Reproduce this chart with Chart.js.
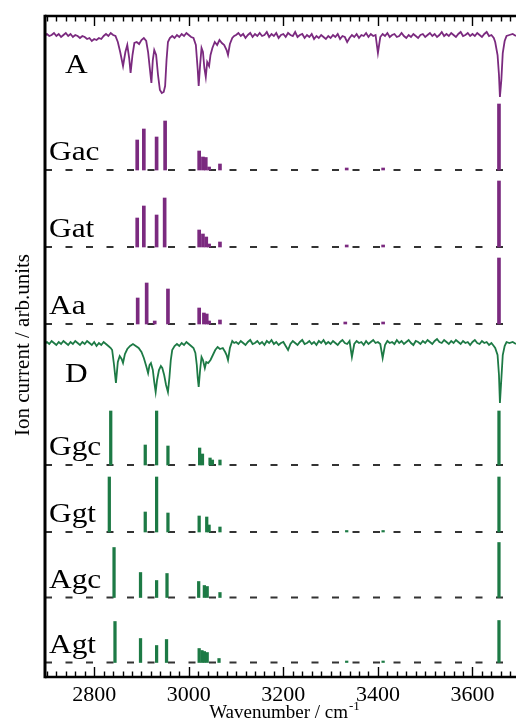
<!DOCTYPE html>
<html>
<head>
<meta charset="utf-8">
<script src="https://cdn.jsdelivr.net/npm/chart.js@4.4.0/dist/chart.umd.min.js"></script>
<style>
  html, body { margin: 0; padding: 0; background: #fff; overflow: hidden; }
  #chart { display: block; }
</style>
</head>
<body>
<canvas id="chart" width="516" height="720"></canvas>
<script>
'use strict'

//x axis range and labelled ticks
const xMin = 2696;
const xMax = 3692;
const xTickLabels = [2800, 3000, 3200, 3400, 3600];
const minorStep = 20;

//Measured spectrum A (wavenumber, signal relative to its own baseline)
const waveA = [
  2696,2700,2705,2710,2715,2720,2725,2730,2735,2740,
  2745,2750,2755,2760,2765,2770,2775,2780,2785,2790,
  2795,2800,2805,2810,2815,2820,2825,2830,2835,2840,
  2845,2850,2855,2861,2866,2870,2874,2877,2881,2885,
  2890,2895,2900,2905,2910,2914,2918,2921,2924,2927,
  2931,2935,2939,2943,2947,2950,2953,2956,2960,2965,
  2970,2975,2980,2985,2990,2995,3000,3005,3010,3015,
  3019,3021,3024,3027,3030,3033,3036,3039,3043,3046,
  3050,3055,3060,3065,3070,3075,3080,3083,3087,3092,
  3096,
  3100,3105,3110,3115,3120,3125,3130,3135,3140,3145,
  3150,3155,3160,3165,3170,3175,3180,3185,3190,3195,
  3200,3205,3210,3215,3220,3225,3230,3235,3240,3245,
  3250,3255,3260,3265,3270,3275,3280,3285,3290,3295,
  3300,3305,3310,3315,3320,3325,3330,3335,3340,3345,
  3350,3355,3360,3365,3370,3375,3380,3385,3390,3395,
  3400,3405,3410,3415,3420,3425,3430,3435,3440,3445,
  3450,3455,3460,3465,3470,3475,3480,3485,3490,3495,
  3500,3505,3510,3515,3520,3525,3530,3535,3540,3545,
  3550,3555,3560,3565,3570,3575,3580,3585,3590,3595,
  3600,3605,3610,3615,3620,3625,3630,3635,3640,3645,
  3648,3653,3656,3658,3661,3664,3668,3672,3678,3685,
  3692
];
const signalA = [
  -1,1,-1,0,2,-1,1,-2,0,2,
  -1,1,-2,0,-1,-3,-1,-2,-4,-3,
  -6,-4,-5,-3,-4,-1,1,-1,2,0,
  -1,-7,-17,-31,-17,-10,-23,-38,-20,-8,
  -7,-9,-5,-3,-6,-17,-35,-48,-25,-15,
  -20,-40,-55,-58,-57,-51,-25,-7,-3,-1,
  -3,0,-2,1,-1,2,0,-2,-3,-10,
  -35,-51,-30,-13,-17,-33,-42,-27,-31,-20,
  -13,-7,-10,-5,-8,-10,-15,-20,-9,-3,
  -1,
  0,2,-1,1,-3,0,2,-2,1,-1,
  2,-1,0,3,-2,1,-1,2,-3,0,
  1,-2,2,0,-1,3,-2,0,1,-3,
  0,-2,1,-4,-1,-3,0,-2,-4,-1,
  -3,0,-2,1,-4,-1,-2,-7,-3,0,
  -2,1,-3,0,-1,2,-2,1,-1,0,
  -18,-2,1,-1,2,-2,0,1,-2,-1,
  2,-1,-3,0,-2,1,-1,-3,0,1,
  -2,0,2,-1,1,-2,0,3,-1,1,
  -1,2,0,-2,1,3,-1,0,2,-1,
  1,-1,2,0,-2,1,3,-1,0,-3,
  -7,-20,-40,-62,-45,-18,-6,-1,0,1,
  -1
];

//Measured spectrum D
const waveD = [
  2696,2700,2705,2710,2715,2720,2725,2730,2735,2740,
  2745,2750,2755,2760,2765,2770,2775,2780,2785,2790,
  2795,2800,2805,2810,2815,2820,2825,2830,2835,2838,
  2842,2846,2850,2854,2858,2861,2865,2870,2876,2882,
  2888,2894,2900,2905,2910,2914,2917,2920,2924,2927,
  2930,2933,2937,2941,2944,2948,2952,2956,2959,2962,
  2965,2970,2975,2980,2985,2990,2995,3000,3005,3010,
  3014,3017,3019,3021,3024,3027,3030,3034,3037,3041,
  3046,3051,3056,3061,3066,3072,3077,3080,3083,3087,
  3092,3096,
  3100,3105,3110,3115,3120,3125,3130,3135,3140,3145,
  3150,3155,3160,3165,3170,3175,3180,3185,3190,3195,
  3200,3205,3210,3215,3220,3225,3230,3235,3240,3245,
  3250,3255,3260,3265,3270,3275,3280,3285,3290,3295,
  3300,3305,3310,3315,3320,3325,3330,3335,3340,3345,
  3350,3355,3360,3365,3370,3375,3380,3385,3390,3395,
  3400,3405,3410,3415,3420,3425,3430,3435,3440,3445,
  3450,3455,3460,3465,3470,3475,3480,3485,3490,3495,
  3500,3505,3510,3515,3520,3525,3530,3535,3540,3545,
  3550,3555,3560,3565,3570,3575,3580,3585,3590,3595,
  3600,3605,3610,3615,3620,3625,3630,3635,3640,3645,
  3648,3653,3656,3658,3661,3664,3668,3672,3678,3685,
  3692
];
const signalD = [
  -1,1,-1,2,0,-2,1,-1,2,0,
  -2,1,-1,2,0,-2,1,-1,2,0,
  -2,1,-3,0,-2,1,-1,-3,-5,-7,
  -22,-40,-19,-13,-16,-20,-11,-6,-3,-1,
  -3,-5,-9,-15,-23,-30,-22,-20,-27,-39,
  -49,-37,-27,-23,-25,-32,-42,-49,-35,-17,
  -7,-3,-1,-3,0,-2,1,-1,-3,-5,
  -10,-22,-35,-44,-27,-14,-17,-25,-19,-20,
  -17,-12,-7,-4,-6,-5,-9,-12,-17,-5,
  2,0,
  1,-1,2,0,-2,1,3,-1,0,2,
  -1,1,-2,2,0,3,-1,1,-2,0,
  1,-3,-7,-1,2,0,-2,1,3,-1,
  0,2,-1,1,-2,2,0,3,-1,1,
  -1,2,0,-2,1,3,0,-1,2,-14,
  -1,2,0,1,-2,2,-1,1,3,0,
  1,-1,-15,-2,2,0,1,-1,3,0,
  2,-1,1,3,0,-2,2,1,-1,2,
  0,3,1,-1,2,4,1,0,3,1,
  -1,2,0,3,1,-1,2,0,1,-2,
  1,3,0,-1,2,0,1,-2,0,-3,
  -5,-12,-32,-60,-36,-12,-3,1,0,1,
  -1
];

//Calculated stick spectra (position, intensity)
const gacPos = [2891,2905,2932,2950,3022,3030,3036,3043,3066,3334,3411,3656];
const gacInt = [30,41,33,49,19,13,12.5,3,6,2,2,66];
const gatPos = [2891,2905,2932,2949,3022,3030,3037,3043,3066,3334,3411,3656];
const gatInt = [29,41,32,49,17,13,10,3,5,2,2,66];
const aaPos = [2892,2911,2928,2956,3022,3032,3038,3043,3066,3331,3411,3656];
const aaInt = [26,41,3,35,16,11,10,3,4,2,2,66];
const ggcPos = [2835,2908,2932,2956,3023,3029,3045,3050,3066,3656];
const ggcInt = [54,20,54,19,17,11,7,5,5,54];
const ggtPos = [2832,2908,2932,2956,3022,3038,3043,3066,3334,3411,3656];
const ggtInt = [55,20,55,19,16,15,7,5,1.5,1.5,55];
const agcPos = [2842,2898,2932,2954,3021,3033,3039,3066,3656];
const agcInt = [50,25,17,24,16,12,11,5,55];
const agtPos = [2844,2898,2932,2953,3022,3028,3033,3039,3064,3334,3411,3656];
const agtInt = [41,24,17,23,14,12,11,10,4,1.5,1.5,42];

//Layout: vertical offsets of each trace (y axis runs 0..661)
const purple = '#7b2a7f';
const green = '#1d7a45';
const offA = 642;
const offD = 334;
const sticks = [
  {name: 'Gac', pos: gacPos, ints: gacInt, base: 507, color: purple},
  {name: 'Gat', pos: gatPos, ints: gatInt, base: 430, color: purple},
  {name: 'Aa',  pos: aaPos,  ints: aaInt,  base: 353, color: purple},
  {name: 'Ggc', pos: ggcPos, ints: ggcInt, base: 212, color: green},
  {name: 'Ggt', pos: ggtPos, ints: ggtInt, base: 145, color: green},
  {name: 'Agc', pos: agcPos, ints: agcInt, base: 79.5, color: green},
  {name: 'Agt', pos: agtPos, ints: agtInt, base: 14.5, color: green}
];

const serif = '"Liberation Serif", "Times New Roman", serif';

//Build datasets
let datasets = [];
datasets.push({
  type: 'line', data: waveA.map((w, i) => ({x: w, y: offA + signalA[i]})),
  borderColor: purple, borderWidth: 1.8, pointRadius: 0, tension: 0, order: 0
});
datasets.push({
  type: 'line', data: waveD.map((w, i) => ({x: w, y: offD + signalD[i]})),
  borderColor: green, borderWidth: 1.8, pointRadius: 0, tension: 0, order: 0
});
sticks.forEach(s => {
  //dashed zero line
  datasets.push({
    type: 'line', data: [{x: xMin, y: s.base}, {x: xMax, y: s.base}],
    borderColor: '#333', borderWidth: 2, borderDash: [7, 13.5], pointRadius: 0, order: 2
  });
  //sticks as floating bars
  datasets.push({
    type: 'bar', data: s.pos.map((p, i) => ({x: p, y: [s.base, s.base + s.ints[i]]})),
    backgroundColor: s.color, borderWidth: 0,
    barThickness: s.color === purple ? 3 : 2.6, grouped: false, order: 1
  });
});

//Text labels inside the panels
function drawLabel(ctx, text, x, y) {
  ctx.save();
  ctx.translate(x, y);
  ctx.scale(1.12, 1);
  ctx.fillText(text, 0, 0);
  ctx.restore();
}

const framePlugin = {
  id: 'frame',
  afterDraw(chart) {
    const ctx = chart.ctx;
    const area = chart.chartArea;
    const xs = chart.scales.x;
    const ys = chart.scales.y;
    ctx.save();
    ctx.strokeStyle = '#000';
    ctx.fillStyle = '#000';

    //axis lines
    ctx.lineWidth = 2.5;
    ctx.beginPath();
    ctx.moveTo(area.left, area.top);
    ctx.lineTo(area.right, area.top);
    ctx.moveTo(area.left, area.bottom);
    ctx.lineTo(area.right, area.bottom);
    ctx.stroke();
    ctx.lineWidth = 3;
    ctx.beginPath();
    ctx.moveTo(area.left, area.top - 1.25);
    ctx.lineTo(area.left, area.bottom + 1.25);
    ctx.stroke();

    //inward ticks, top and bottom
    ctx.lineWidth = 1.4;
    ctx.beginPath();
    for (let v = 2700; v <= xMax; v += minorStep) {
      const px = Math.round(xs.getPixelForValue(v)) + 0.5;
      const len = xTickLabels.includes(v) ? 10 : 5.5;
      ctx.moveTo(px, area.bottom);
      ctx.lineTo(px, area.bottom - len);
      ctx.moveTo(px, area.top);
      ctx.lineTo(px, area.top + len);
    }
    ctx.stroke();

    //panel labels
    ctx.font = '28px ' + serif;
    ctx.textBaseline = 'alphabetic';
    ctx.textAlign = 'left';
    drawLabel(ctx, 'A', 65, ys.getPixelForValue(offA - 37.7));
    drawLabel(ctx, 'D', 65, ys.getPixelForValue(offD - 38.7));
    sticks.forEach(s => drawLabel(ctx, s.name, 49, ys.getPixelForValue(s.base + 10)));

    //y axis title
    ctx.save();
    ctx.translate(28.5, 345);
    ctx.rotate(-Math.PI / 2);
    ctx.font = '21px ' + serif;
    ctx.textAlign = 'center';
    ctx.fillText('Ion current / arb.units', 0, 0);
    ctx.restore();

    //x axis title with superscript
    ctx.font = '19px ' + serif;
    const main = 'Wavenumber / cm';
    const wMain = ctx.measureText(main).width;
    ctx.font = '13px ' + serif;
    const wSup = ctx.measureText('-1').width;
    let start = 284 - (wMain + wSup) / 2;
    ctx.font = '19px ' + serif;
    ctx.fillText(main, start, 718);
    ctx.font = '13px ' + serif;
    ctx.fillText('-1', start + wMain + 1, 710);

    ctx.restore();
  }
};

const chart = new Chart(document.getElementById('chart').getContext('2d'), {
  type: 'line',
  data: {datasets: datasets},
  options: {
    responsive: false,
    animation: false,
    layout: {padding: {left: 45, top: 16, right: 0, bottom: 0}},
    plugins: {legend: {display: false}, tooltip: {enabled: false}},
    scales: {
      x: {
        type: 'linear', min: xMin, max: xMax, offset: false,
        grid: {display: false, drawTicks: false, offset: false},
        border: {display: false},
        afterBuildTicks: axis => { axis.ticks = xTickLabels.map(v => ({value: v})); },
        afterFit: axis => { axis.height = 43; },
        ticks: {
          color: '#000', padding: 5, maxRotation: 0, autoSkip: false,
          font: {family: serif, size: 22},
          callback: v => String(v)
        }
      },
      y: {type: 'linear', min: 0, max: 661, display: false}
    }
  },
  plugins: [framePlugin]
});
</script>
</body>
</html>
